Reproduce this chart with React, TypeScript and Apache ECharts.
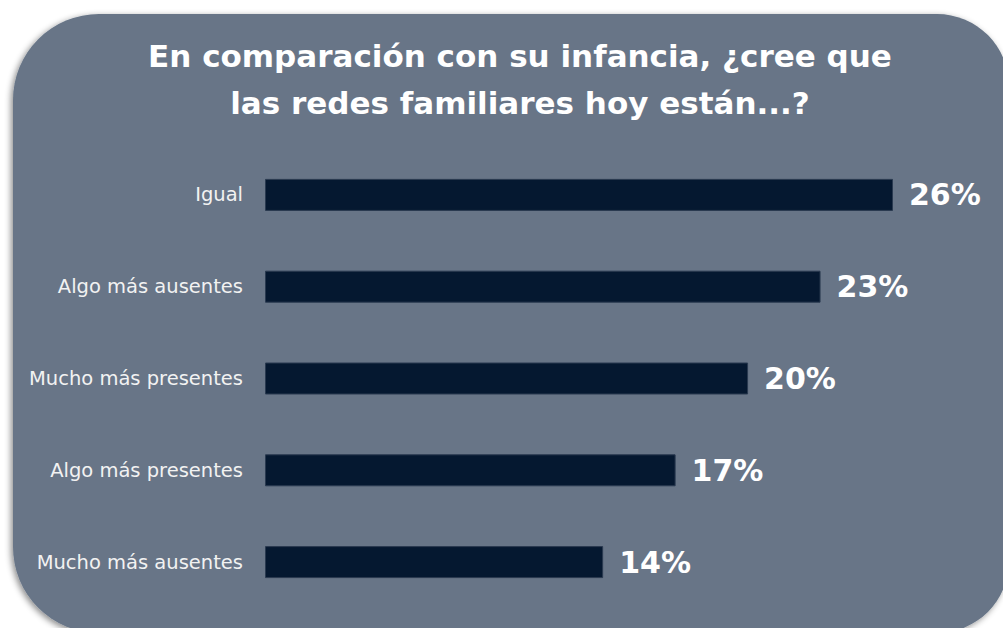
import React, { useEffect, useRef } from "react";
import * as echarts from "echarts";

const titleLines = ["En comparación con su infancia, ¿cree que", "las redes familiares hoy están...?"];
const categories = ["Igual", "Algo más ausentes", "Mucho más presentes", "Algo más presentes", "Mucho más ausentes"];
const values = [26, 23, 20, 17, 14];

export default function App() {
  const ref = useRef<HTMLDivElement>(null);
  useEffect(() => {
    document.body.style.margin = "0";
    const chart = echarts.init(ref.current!, null, { renderer: "svg" });
    chart.setOption({
      animation: false,
      backgroundColor: "#ffffff",
      graphic: [
        {
          type: "rect",
          z: -10,
          shape: { x: 13, y: 14, width: 996, height: 619, r: [86, 72, 72, 86] },
          style: {
            fill: "#677587",
            shadowBlur: 6,
            shadowColor: "rgba(0,0,0,0.45)",
            shadowOffsetX: -2,
            shadowOffsetY: 2,
          },
        },
      ],
      title: {
        text: titleLines.join("\n"),
        left: 515,
        top: 27,
        textAlign: "center",
        textStyle: {
          color: "#ffffff",
          fontFamily: "DejaVu Sans",
          fontWeight: "bold",
          fontSize: 31,
          lineHeight: 47,
        },
      },
      grid: { left: 265, top: 149, width: 628, height: 459, containLabel: false },
      xAxis: {
        type: "value",
        min: 0,
        max: 26,
        show: false,
      },
      yAxis: {
        type: "category",
        inverse: true,
        data: categories,
        axisLine: { show: false },
        axisTick: { show: false },
        splitLine: { show: false },
        axisLabel: {
          color: "#f2f2f2",
          fontFamily: "DejaVu Sans",
          fontSize: 19.5,
          margin: 22,
        },
      },
      series: [
        {
          type: "bar",
          data: values,
          barWidth: 32,
          itemStyle: { color: "#051830", borderColor: "#2a3a50", borderWidth: 1 },
          label: {
            show: true,
            position: "right",
            distance: 16,
            formatter: "{c}%",
            color: "#ffffff",
            fontFamily: "DejaVu Sans",
            fontWeight: "bold",
            fontSize: 30,
          },
        },
      ],
    });
    return () => chart.dispose();
  }, []);
  return <div ref={ref} style={{ width: 1003, height: 628 }} />;
}
